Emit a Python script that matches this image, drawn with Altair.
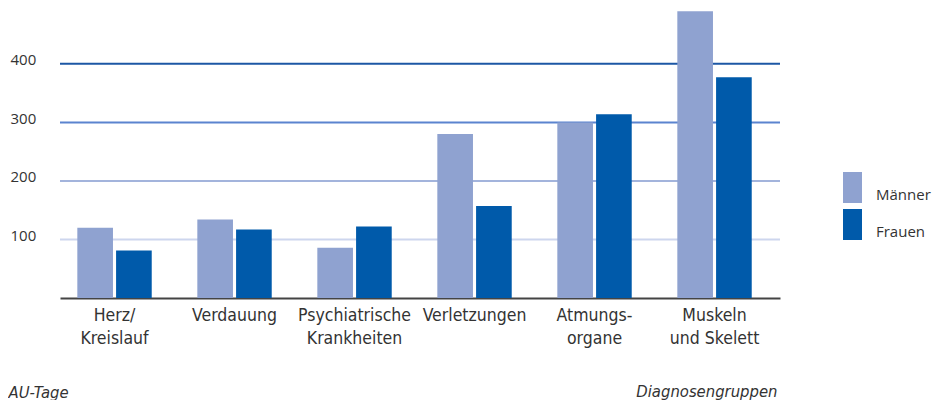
import altair as alt
import pandas as pd

categories = ["Herz/\nKreislauf", "Verdauung", "Psychiatrische\nKrankheiten",
              "Verletzungen", "Atmungs-\norgane", "Muskeln\nund Skelett"]
maenner = [120, 134, 86, 280, 300, 490]
frauen = [81, 117, 122, 157, 314, 377]
series = ["Männer", "Frauen"]
series_colors = ["#8fa2d0", "#005aaa"]
grid_values = [100, 200, 300, 400]
grid_colors = ["#cdd6ee", "#a3b4dc", "#5b84cf", "#1c57a5"]

rows = []
for c, m, f in zip(categories, maenner, frauen):
    rows.append({"cat": c, "serie": "Männer", "wert": m})
    rows.append({"cat": c, "serie": "Frauen", "wert": f})
df = pd.DataFrame(rows)
grid_df = pd.DataFrame({"g": grid_values, "col": grid_colors})

FONT = "Open Sans"
XFONT = "DejaVu Sans Condensed"
TXT = "#333333"

yscale = alt.Scale(domain=[0, 492], nice=False, zero=True)

rules = alt.Chart(grid_df).mark_rule(strokeWidth=2).encode(
    y=alt.Y("g:Q", scale=yscale),
    color=alt.Color("col:N", scale=None),
)

bars = alt.Chart(df).mark_bar().encode(
    x=alt.X("cat:N", sort=categories,
            scale=alt.Scale(paddingInner=0.38, paddingOuter=0.19, align=0.38),
            axis=alt.Axis(title="Diagnosengruppen", titleAnchor="end", titleFontStyle="italic",
                          titleFontWeight="normal", titleFont=XFONT, titleFontSize=16.5, titleColor=TXT,
                          titleBaseline="middle", titleY=93, titleX=717, titleAlign="right",
                          labelExpr="split(datum.value, '\\n')", labelAngle=0,
                          labelFont=XFONT, labelFontSize=17.5, labelColor=TXT,
                          labelLineHeight=23, labelPadding=8, ticks=False,
                          domainColor="#444444", domainWidth=2)),
    xOffset=alt.XOffset("serie:N", sort=series, scale=alt.Scale(paddingInner=0.08)),
    y=alt.Y("wert:Q", scale=yscale,
            axis=alt.Axis(values=grid_values, grid=False, ticks=False, domain=False,
                          labelAlign="left", labelPadding=50, labelFont=FONT, labelFontSize=15,
                          labelColor=TXT, labelOffset=-4,
                          title="AU-Tage", titleAngle=0, titleAlign="left", titleBaseline="middle",
                          titleX=-52, titleY=382, titleFontStyle="italic", titleFontWeight="normal",
                          titleFont=XFONT, titleFontSize=16.5, titleColor=TXT)),
    color=alt.Color("serie:N", sort=series,
                    scale=alt.Scale(domain=series, range=series_colors),
                    legend=alt.Legend(title=None, orient="none", legendX=777, legendY=162,
                                      symbolType="M-0.613,-1H0.613V1H-0.613Z", symbolSize=961,
                                      symbolStrokeWidth=0, symbolOpacity=1,
                                      labelFont=FONT, labelFontSize=15, labelColor=TXT,
                                      labelBaseline="top", labelOffset=8, rowPadding=6)),
)

chart = alt.layer(rules, bars).properties(
    width=720, height=288,
    autosize=alt.AutoSizeParams(type="none"),
    padding={"left": 52, "top": 2, "right": 154, "bottom": 102},
).configure_view(stroke=None)

chart.save("out.html", embed_options={"renderer": "svg", "actions": False})
